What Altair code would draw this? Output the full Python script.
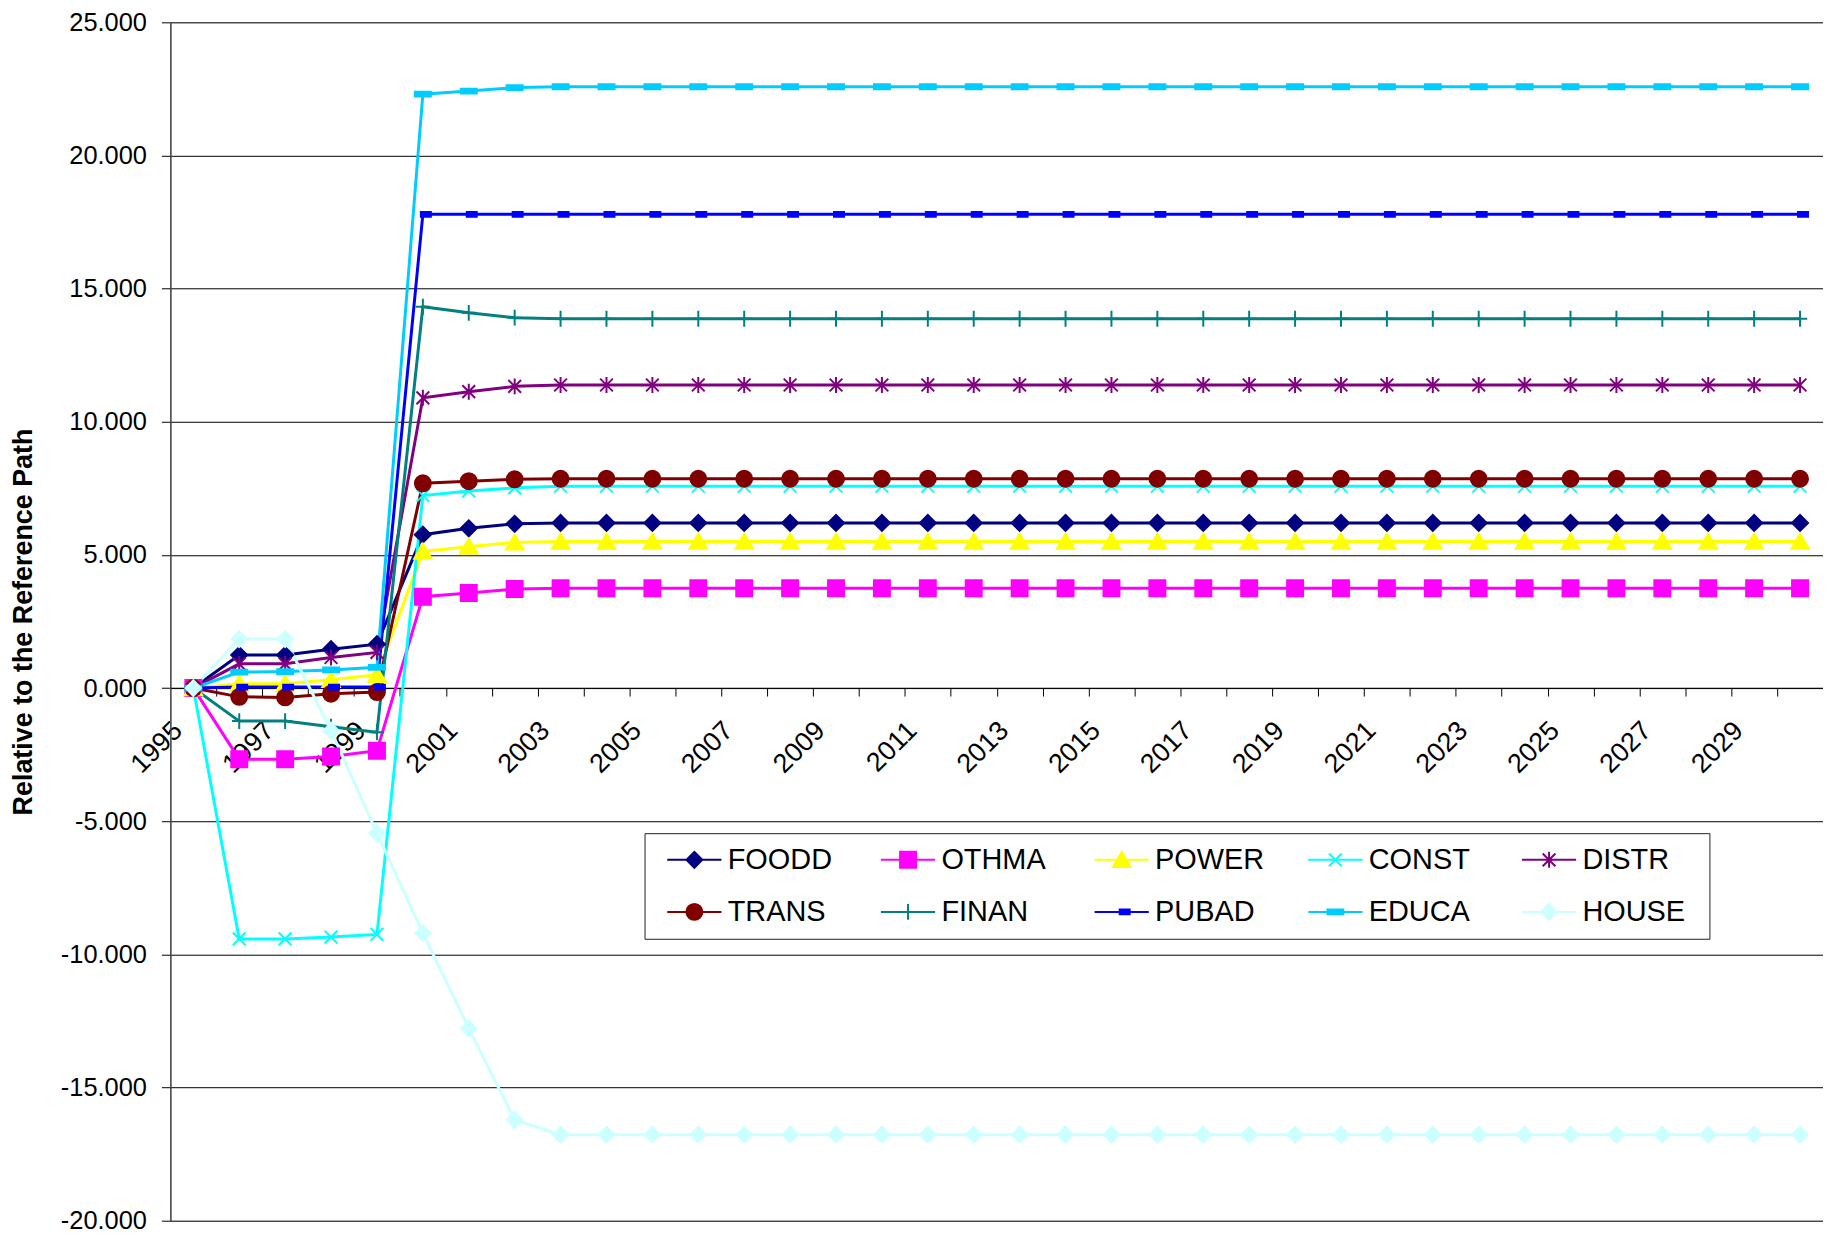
import altair as alt
import pandas as pd

FONT = "Liberation Sans"

YEARS = [1995, 1996, 1997, 1998, 1999, 2000, 2001, 2002, 2003, 2004, 2005, 2006,
         2007, 2008, 2009, 2010, 2011, 2012, 2013, 2014, 2015, 2016, 2017, 2018,
         2019, 2020, 2021, 2022, 2023, 2024, 2025, 2026, 2027, 2028, 2029, 2030]

FOODD = [0.00, 1.24, 1.24, 1.46, 1.65, 5.76, 6.00, 6.17, 6.20, 6.20, 6.20, 6.20,
         6.20, 6.20, 6.20, 6.20, 6.20, 6.20, 6.20, 6.20, 6.20, 6.20, 6.20, 6.20,
         6.20, 6.20, 6.20, 6.20, 6.20, 6.20, 6.20, 6.20, 6.20, 6.20, 6.20, 6.20]
OTHMA = [0.00, -2.67, -2.67, -2.57, -2.35, 3.43, 3.57, 3.72, 3.75, 3.75, 3.75, 3.75,
         3.75, 3.75, 3.75, 3.75, 3.75, 3.75, 3.75, 3.75, 3.75, 3.75, 3.75, 3.75,
         3.75, 3.75, 3.75, 3.75, 3.75, 3.75, 3.75, 3.75, 3.75, 3.75, 3.75, 3.75]
POWER = [0.00, 0.16, 0.16, 0.31, 0.50, 5.13, 5.31, 5.47, 5.50, 5.50, 5.50, 5.50,
         5.50, 5.50, 5.50, 5.50, 5.50, 5.50, 5.50, 5.50, 5.50, 5.50, 5.50, 5.50,
         5.50, 5.50, 5.50, 5.50, 5.50, 5.50, 5.50, 5.50, 5.50, 5.50, 5.50, 5.50]
CONST = [0.00, -9.42, -9.42, -9.35, -9.25, 7.23, 7.40, 7.52, 7.58, 7.58, 7.58, 7.58,
         7.58, 7.58, 7.58, 7.58, 7.58, 7.58, 7.58, 7.58, 7.58, 7.58, 7.58, 7.58,
         7.58, 7.58, 7.58, 7.58, 7.58, 7.58, 7.58, 7.58, 7.58, 7.58, 7.58, 7.58]
DISTR = [0.00, 0.91, 0.91, 1.15, 1.34, 10.90, 11.13, 11.33, 11.38, 11.38, 11.38, 11.38,
         11.38, 11.38, 11.38, 11.38, 11.38, 11.38, 11.38, 11.38, 11.38, 11.38, 11.38, 11.38,
         11.38, 11.38, 11.38, 11.38, 11.38, 11.38, 11.38, 11.38, 11.38, 11.38, 11.38, 11.38]
TRANS = [0.00, -0.33, -0.35, -0.21, -0.15, 7.69, 7.77, 7.84, 7.86, 7.86, 7.86, 7.86,
         7.86, 7.86, 7.86, 7.86, 7.86, 7.86, 7.86, 7.86, 7.86, 7.86, 7.86, 7.86,
         7.86, 7.86, 7.86, 7.86, 7.86, 7.86, 7.86, 7.86, 7.86, 7.86, 7.86, 7.86]
FINAN = [0.00, -1.24, -1.24, -1.45, -1.66, 14.32, 14.09, 13.91, 13.87, 13.87, 13.87, 13.87,
         13.87, 13.87, 13.87, 13.87, 13.87, 13.87, 13.87, 13.87, 13.87, 13.87, 13.87, 13.87,
         13.87, 13.87, 13.87, 13.87, 13.87, 13.87, 13.87, 13.87, 13.87, 13.87, 13.87, 13.87]
PUBAD = [0.00, 0.04, 0.04, 0.04, 0.04, 17.79, 17.79, 17.79, 17.79, 17.79, 17.79, 17.79,
         17.79, 17.79, 17.79, 17.79, 17.79, 17.79, 17.79, 17.79, 17.79, 17.79, 17.79, 17.79,
         17.79, 17.79, 17.79, 17.79, 17.79, 17.79, 17.79, 17.79, 17.79, 17.79, 17.79, 17.79]
EDUCA = [0.00, 0.60, 0.62, 0.68, 0.78, 22.30, 22.42, 22.55, 22.58, 22.58, 22.58, 22.58,
         22.58, 22.58, 22.58, 22.58, 22.58, 22.58, 22.58, 22.58, 22.58, 22.58, 22.58, 22.58,
         22.58, 22.58, 22.58, 22.58, 22.58, 22.58, 22.58, 22.58, 22.58, 22.58, 22.58, 22.58]
HOUSE = [0.00, 1.84, 1.84, -1.60, -5.45, -9.20, -12.78, -16.22, -16.77, -16.77, -16.77, -16.77,
         -16.77, -16.77, -16.77, -16.77, -16.77, -16.77, -16.77, -16.77, -16.77, -16.77, -16.77, -16.77,
         -16.77, -16.77, -16.77, -16.77, -16.77, -16.77, -16.77, -16.77, -16.77, -16.77, -16.77, -16.77]

SERIES = ["FOODD", "OTHMA", "POWER", "CONST", "DISTR",
          "TRANS", "FINAN", "PUBAD", "EDUCA", "HOUSE"]
VALUES = [FOODD, OTHMA, POWER, CONST, DISTR, TRANS, FINAN, PUBAD, EDUCA, HOUSE]
COLORS = ["#000080", "#FF00FF", "#FFFF00", "#00FFFF", "#800080",
          "#800000", "#008080", "#0000FF", "#00CCFF", "#CCFFFF"]
SHAPES = [
    "M-1,0L0,-1L1,0L0,1Z",
    "M-1,-1L1,-1L1,1L-1,1Z",
    "M0,-1L1.1,0.9L-1.1,0.9Z",
    "M-0.8,-0.8L0.8,0.8M-0.8,0.8L0.8,-0.8",
    "M-0.8,-0.8L0.8,0.8M-0.8,0.8L0.8,-0.8M0,-1L0,1",
    "M-1,0A1,1,0,1,1,1,0A1,1,0,1,1,-1,0Z",
    "M-0.9,0L0.9,0M0,-1L0,1",
    "M-0.25,-0.3L1,-0.3L1,0.3L-0.25,0.3Z",
    "M-1,-0.3L1,-0.3L1,0.3L-1,0.3Z",
    "M-0.95,0L0,-1L0.95,0L0,1Z",
]
LEGEND_SHAPES = [p + "M-3.4,0L3.4,0" for p in SHAPES]
Y_TICKS = [-20, -15, -10, -5, 0, 5, 10, 15, 20, 25]

rows = []
for name, vals in zip(SERIES, VALUES):
    for yr, v in zip(YEARS, vals):
        rows.append({"year": yr, "series": name, "value": v})
df = pd.DataFrame(rows)

W, H = 1659, 1203
half = W / len(YEARS) / 2
x_axis_offset = -(H * 20 / 45)

x = alt.X("year:Q",
          scale=alt.Scale(domain=[1994.5, 2030.5], nice=False, zero=False),
          axis=alt.Axis(values=YEARS, tickOffset=half, labelOffset=-half - 25,
                        labelExpr="datum.value % 2 == 1 ? toString(datum.value) : ''",
                        labelAngle=-45, labelAlign="right", labelBaseline="top",
                        labelPadding=21, tickSize=8, tickColor="black", tickWidth=1,
                        domainColor="black", domainWidth=1, offset=x_axis_offset,
                        grid=False, title=None, labelFlush=False, labelOverlap=False,
                        labelBound=False, labelFont=FONT, labelFontSize=27,
                        labelColor="black"))
y = alt.Y("value:Q",
          scale=alt.Scale(domain=[-20, 25], nice=False, zero=False),
          axis=alt.Axis(values=Y_TICKS,
                        labelExpr="(datum.value < 0 ? '-' : '') + format(abs(datum.value), '.3f')",
                        tickSize=9, tickColor="black", labelPadding=15, grid=True,
                        gridColor="black", gridWidth=1, domainColor="#404040",
                        domainWidth=1.5, labelFont=FONT, labelFontSize=25.5,
                        labelColor="black", title="Relative to the Reference Path",
                        titleFont=FONT, titleFontSize=27, titleFontWeight="bold",
                        titleColor="black", titlePadding=23, labelFlush=False,
                        labelOverlap=False))

color_scale = alt.Scale(domain=SERIES, range=COLORS)

lines = alt.Chart(df).mark_line(strokeWidth=3).encode(
    x=x, y=y, color=alt.Color("series:N", scale=color_scale, legend=None),
    detail="series:N")

points = alt.Chart(df).mark_point(filled=True, size=256, strokeWidth=2, opacity=1).encode(
    x=x, y=y,
    color=alt.Color("series:N", scale=color_scale, legend=None),
    stroke=alt.Stroke("series:N", scale=color_scale, legend=None),
    shape=alt.Shape("series:N", scale=alt.Scale(domain=SERIES, range=SHAPES), legend=None),
)

legend = alt.Legend(
    title="\u00a0", titleOrient="right", titlePadding=12, titleFontSize=29,
    orient="none", legendX=476, legendY=814, direction="horizontal",
    columns=5, labelFont=FONT, labelFontSize=29, labelColor="black", labelLimit=300,
    symbolSize=256, symbolStrokeWidth=2, symbolOffset=23.5, labelOffset=19,
    columnPadding=32.5, rowPadding=22.5, padding=12, gridAlign="all",
    fillColor="white", strokeColor="#222222", symbolOpacity=1,
)

legend_layer = alt.Chart(df).transform_filter("false").mark_point(
    filled=True, size=256, strokeWidth=2, opacity=1).encode(
    x=x, y=y,
    color=alt.Color("series:N", scale=color_scale, legend=legend),
    stroke=alt.Stroke("series:N", scale=color_scale, legend=legend),
    shape=alt.Shape("series:N", scale=alt.Scale(domain=SERIES, range=LEGEND_SHAPES),
                    legend=legend),
)

chart = alt.layer(lines, points, legend_layer).resolve_scale(
    color="independent", stroke="independent", shape="independent"
).properties(
    width=W, height=H,
    autosize=alt.AutoSizeParams(type="none"),
    padding={"left": 163, "top": 12, "right": 0, "bottom": 14},
).configure_view(
    fill="#C0C0C0", stroke="#808080", strokeWidth=1.5
).configure(background="white")

chart.save("out.html", embed_options={"renderer": "svg", "actions": False})
